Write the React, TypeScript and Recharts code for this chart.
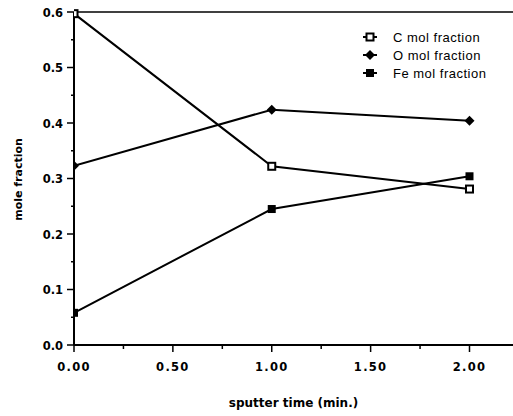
import { Label, Line, LineChart, ReferenceLine, XAxis, YAxis } from "recharts";

const times = [0, 1, 2];
const cMol = [0.597, 0.322, 0.281];
const oMol = [0.323, 0.424, 0.404];
const feMol = [0.058, 0.245, 0.304];

const xTicks = [0, 0.25, 0.5, 0.75, 1, 1.25, 1.5, 1.75, 2];
const yTicks = [0, 0.05, 0.1, 0.15, 0.2, 0.25, 0.3, 0.35, 0.4, 0.45, 0.5, 0.55, 0.6];

const seriesNames = ["C mol fraction", "O mol fraction", "Fe mol fraction"];
const seriesKeys = ["c", "o", "fe"];

const data = times.map((t, i) => ({ time: t, c: cMol[i], o: oMol[i], fe: feMol[i] }));

const tickFont = {
  fontFamily: "'DejaVu Sans', sans-serif",
  fontWeight: 700,
  fontSize: 11.5,
  fill: "#000",
};

function Marker({ kind, cx, cy }: { kind: string; cx: number; cy: number }) {
  if (kind === "o") {
    const r = 5;
    return (
      <path
        d={`M${cx},${cy - r}L${cx + r},${cy}L${cx},${cy + r}L${cx - r},${cy}Z`}
        fill="#000"
      />
    );
  }
  if (kind === "c") {
    return (
      <rect x={cx - 3.5} y={cy - 3.5} width={7} height={7} fill="#fff" stroke="#000" strokeWidth={2} />
    );
  }
  return <rect x={cx - 4} y={cy - 4} width={8} height={8} fill="#000" />;
}

const isMajor = (v: number, step: number) =>
  Math.abs(v / step - Math.round(v / step)) < 1e-6;

function XTick(props: any) {
  const { x, y, payload } = props;
  const major = isMajor(payload.value, 0.5);
  return (
    <g>
      <line x1={x} x2={x} y1={y} y2={y + (major ? 7 : 4)} stroke="#000" strokeWidth={1.5} />
      {major && (
        <text x={x} y={y + 26} textAnchor="middle" {...tickFont} letterSpacing={1.3}>
          {payload.value.toFixed(2)}
        </text>
      )}
    </g>
  );
}

function YTick(props: any) {
  const { x, y, payload } = props;
  const major = isMajor(payload.value, 0.1);
  return (
    <g>
      <line x1={x - (major ? 7 : 3)} x2={x} y1={y} y2={y} stroke="#000" strokeWidth={1.5} />
      {major && (
        <text x={x - 11} y={y + 4.5} textAnchor="end" {...tickFont}>
          {payload.value.toFixed(1)}
        </text>
      )}
    </g>
  );
}

export default function App() {
  return (
    <div style={{ position: "absolute", left: 0, top: 0, width: 513, height: 416, background: "#fff" }}>
      <LineChart width={513} height={416} data={data} margin={{ top: 12, right: 0, bottom: 0, left: 0 }}>
        <XAxis
          dataKey="time"
          type="number"
          domain={[0, 2.22]}
          ticks={xTicks}
          interval={0}
          tickSize={0}
          tickMargin={0}
          tick={<XTick />}
          height={71}
          axisLine={{ stroke: "#000", strokeWidth: 2 }}
          allowDataOverflow
        >
          <Label
            content={({ viewBox }: any) => (
              <text
                x={viewBox.x + viewBox.width / 2}
                y={viewBox.y + 62}
                textAnchor="middle"
                fontFamily="'DejaVu Sans', sans-serif"
                fontWeight={700}
                fontSize={12}
              >
                sputter time (min.)
              </text>
            )}
          />
        </XAxis>
        <YAxis
          type="number"
          domain={[0, 0.6]}
          ticks={yTicks}
          interval={0}
          tickSize={0}
          tickMargin={0}
          tick={<YTick />}
          width={74}
          axisLine={{ stroke: "#000", strokeWidth: 2 }}
        >
          <Label
            content={({ viewBox }: any) => {
              const cx = 22;
              const cy = viewBox.y + viewBox.height / 2 + 1;
              return (
                <text
                  x={cx}
                  y={cy}
                  transform={`rotate(-90 ${cx} ${cy})`}
                  textAnchor="middle"
                  fontFamily="'DejaVu Sans', sans-serif"
                  fontWeight={700}
                  fontSize={11}
                >
                  mole fraction
                </text>
              );
            }}
          />
        </YAxis>
        <ReferenceLine y={0.6} stroke="#000" strokeWidth={1.5} />
        {seriesKeys.map((k) => (
          <Line
            key={k}
            dataKey={k}
            stroke="#000"
            strokeWidth={2}
            isAnimationActive={false}
            dot={(p: any) => <Marker key={`${k}-${p.index}`} kind={k} cx={p.cx} cy={p.cy} />}
          />
        ))}
      </LineChart>
      <div style={{ position: "absolute", left: 362, top: 28 }}>
        {seriesKeys.map((k, i) => (
          <div
            key={k}
            style={{
              display: "flex",
              alignItems: "center",
              height: 18,
              fontFamily: "'Liberation Sans', Arial, sans-serif",
              fontSize: 13,
              color: "#000",
            }}
          >
            <svg width={16} height={12} style={{ marginRight: 15 }}>
              <line x1={1} x2={15} y1={6} y2={6} stroke="#000" strokeWidth={2} />
              <Marker kind={k} cx={8} cy={6} />
            </svg>
            <span style={{ letterSpacing: 0.5 }}>{seriesNames[i]}</span>
          </div>
        ))}
      </div>
    </div>
  );
}
